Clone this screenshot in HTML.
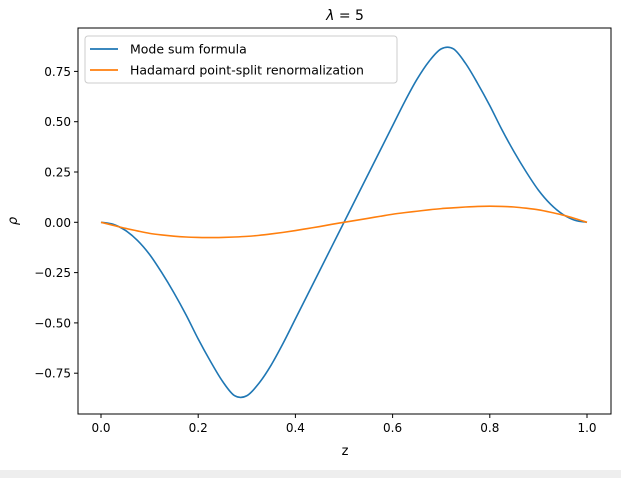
<!DOCTYPE html>
<html><head><meta charset="utf-8"><style>
html,body{margin:0;padding:0;background:#fff;}
body{width:621px;height:478px;overflow:hidden;position:relative;font-family:"Liberation Sans","DejaVu Sans",sans-serif;}
#bar{position:absolute;left:0;top:470px;width:621px;height:8px;background:#eeeeee;}
</style></head><body>
<svg id="chart" width="621" height="470" style="position:absolute;left:0;top:0" font-family="DejaVu Sans, Liberation Sans, sans-serif"></svg>
<div id="bar"></div>
<script>
const xTicks=[0.0,0.2,0.4,0.6,0.8,1.0];
const xTickLabels=["0.0","0.2","0.4","0.6","0.8","1.0"];
const yTicks=[-0.75,-0.5,-0.25,0,0.25,0.5,0.75];
const yTickLabels=["\u22120.75","\u22120.50","\u22120.25","0.00","0.25","0.50","0.75"];
const zVals=[0,0.025,0.05,0.075,0.1,0.125,0.15,0.175,0.2,0.225,0.25,0.275,0.3,0.325,0.35,0.375,0.4,0.425,0.45,0.475,0.5,0.525,0.55,0.575,0.6,0.625,0.65,0.675,0.7,0.725,0.75,0.775,0.8,0.825,0.85,0.875,0.9,0.925,0.95,0.975,1];
const modeSum=[0,-0.01,-0.04,-0.09,-0.16,-0.25,-0.35,-0.46,-0.58,-0.69,-0.79,-0.862,-0.862,-0.8,-0.71,-0.6,-0.48,-0.36,-0.24,-0.12,0,0.12,0.24,0.36,0.48,0.6,0.71,0.8,0.862,0.862,0.79,0.69,0.58,0.46,0.35,0.25,0.16,0.09,0.04,0.01,0];
const hadamard=[0,-0.015,-0.03,-0.043,-0.055,-0.063,-0.069,-0.073,-0.075,-0.076,-0.075,-0.073,-0.07,-0.065,-0.058,-0.05,-0.041,-0.031,-0.021,-0.01,0,0.01,0.02,0.03,0.04,0.048,0.055,0.062,0.068,0.072,0.076,0.079,0.08,0.079,0.076,0.07,0.062,0.05,0.036,0.019,0];
const L=78,R=611,T=28,B=414;
const xs=v=>101+v*486;
const ys=v=>222.3-v*201.2;
const svg=document.getElementById('chart');
const NS='http://www.w3.org/2000/svg';
function mk(tag,attrs,parent){const e=document.createElementNS(NS,tag);for(const k in attrs)e.setAttribute(k,attrs[k]);(parent||svg).appendChild(e);return e;}
function pathFor(ys_){
  const p=zVals.map((z,i)=>[xs(z),ys(ys_[i])]);
  let d='M'+p[0][0]+','+p[0][1];
  for(let i=0;i<p.length-1;i++){
    const p0=p[Math.max(0,i-1)],p1=p[i],p2=p[i+1],p3=p[Math.min(p.length-1,i+2)];
    const c1=[p1[0]+(p2[0]-p0[0])/6,p1[1]+(p2[1]-p0[1])/6];
    const c2=[p2[0]-(p3[0]-p1[0])/6,p2[1]-(p3[1]-p1[1])/6];
    d+=' C'+c1[0]+','+c1[1]+' '+c2[0]+','+c2[1]+' '+p2[0]+','+p2[1];
  }
  return d;
}
let s1=mk('path',{d:pathFor(modeSum),fill:'none',stroke:'#1f77b4','stroke-width':1.6});


let s2=mk('path',{d:pathFor(hadamard),fill:'none',stroke:'#ff7f0e','stroke-width':1.6});


let frame=mk('rect',{x:L,y:T,width:R-L,height:B-T,fill:'none',stroke:'#000','stroke-width':1});


xTicks.forEach((v,i)=>{
  const x=xs(v);
  let t=mk('line',{x1:x,x2:x,y1:B,y2:B+4,stroke:'#000'});
  
  
  let l=mk('text',{x:x,y:B+18,'text-anchor':'middle','font-size':12});
  l.textContent=xTickLabels[i];
  
  
});
yTicks.forEach((v,i)=>{
  const y=ys(v);
  let t=mk('line',{x1:L-4,x2:L,y1:y,y2:y,stroke:'#000'});
  
  
  let l=mk('text',{x:L-7,y:y+4.5,'text-anchor':'end','font-size':12});
  l.textContent=yTickLabels[i];
  
  
});
let xt=mk('text',{x:345,y:455,'text-anchor':'middle','font-size':13});
xt.textContent='z';


let yt=mk('text',{x:17,y:221,'text-anchor':'middle','font-size':13,'font-style':'italic',transform:'rotate(-90 17 221)'});
yt.textContent='ρ';


let ti=mk('text',{x:345,y:20,'text-anchor':'middle','font-size':14});
ti.innerHTML='<tspan font-style="italic">λ</tspan> = 5';


let lg=mk('g',{});


mk('rect',{x:85,y:36,width:312,height:47,rx:3,fill:'#fff','fill-opacity':0.8,stroke:'#ccc'},lg);
const legNames=['Mode sum formula','Hadamard point-split renormalization'];
const legColors=['#1f77b4','#ff7f0e'];
legNames.forEach((n,i)=>{
  const y=49+i*21;
  let e=mk('g',{},lg);
  
  
  mk('line',{x1:90,x2:118,y1:y,y2:y,stroke:legColors[i],'stroke-width':1.8},e);
  let t=mk('text',{x:130,y:y+4.5,'font-size':12.5},e);
  t.textContent=n;
});
</script>
</body></html>
